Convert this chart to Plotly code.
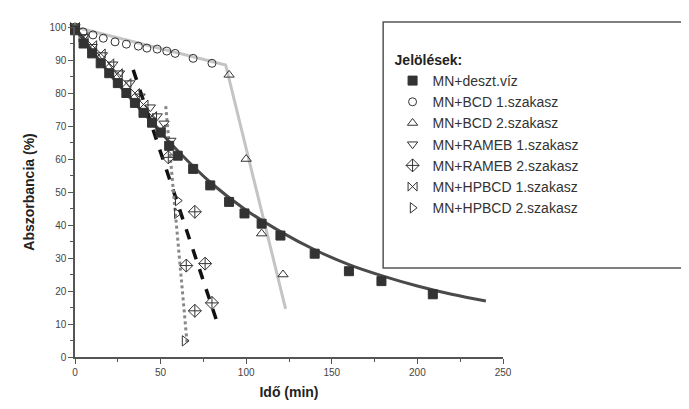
import plotly.graph_objects as go

# MN + deszt. víz (filled squares)
viz_t = [0, 5, 10, 15, 20, 25, 30, 35, 40, 45, 50, 55, 60, 69, 79, 90, 99, 109, 120, 140, 160, 179, 209]
viz_a = [99, 95, 92, 89, 86, 83, 80, 77, 74, 71, 68, 64, 61, 57, 52, 47, 43.5, 40.4, 36.8, 31.3, 26, 23, 19]
# fitted curve
fit_t = [0, 20, 40, 60, 80, 100, 120, 140, 160, 180, 200, 220, 240]
fit_a = [100, 86, 74, 62.5, 52.5, 44.5, 38, 32.5, 28, 24.5, 21.5, 19, 17]

# MN + BCD 1. szakasz (circles)
bcd1_t = [0, 4.7, 10.5, 16.5, 23.4, 30, 37, 42, 48, 53.6, 58.5, 69, 80]
bcd1_a = [100, 98.5, 97.6, 96.6, 95.5, 94.8, 94.2, 93.6, 93.3, 92.7, 92, 90.5, 89]
# MN + BCD 2. szakasz (triangles up)
bcd2_t = [90, 100, 109, 121.5]
bcd2_a = [85.5, 60, 37.4, 25]
bcd_line_t = [0, 88, 123]
bcd_line_a = [100, 88.5, 14.6]

# MN + RAMEB 1. szakasz (triangles down)
rameb1_t = [0, 5, 10, 16, 22, 26, 32, 38, 44, 48, 52, 56]
rameb1_a = [100, 97, 94, 91.5, 88.7, 86, 83, 79, 75.7, 73, 70.8, 65.6]
# MN + RAMEB 2. szakasz (diamonds)
rameb2_t = [54.5, 65, 70, 70, 76, 80]
rameb2_a = [60.5, 27.7, 44, 14, 28.3, 16.4]
rameb_line_t = [34, 84]
rameb_line_a = [87, 9]

# MN + HPBCD 1. szakasz
hp1_t = [0, 5, 10, 15, 20, 25, 30, 35, 40, 45, 50]
hp1_a = [100, 97, 94.5, 92, 89, 86, 83, 80, 76.5, 73, 69]
# MN + HPBCD 2. szakasz (triangles right)
hp2_t = [60, 59.5, 64]
hp2_a = [47.4, 43.5, 4.9]
hp_line_t = [53, 65.5]
hp_line_a = [76, 4]

mc = "#333333"
fig = go.Figure()

# lines first
fig.add_trace(go.Scatter(x=bcd_line_t, y=bcd_line_a, mode="lines", showlegend=False,
                         line=dict(color="#c4c4c4", width=3)))
fig.add_trace(go.Scatter(x=fit_t, y=fit_a, mode="lines", line_shape="spline", showlegend=False,
                         line=dict(color="#4a4a4a", width=3)))
fig.add_trace(go.Scatter(x=rameb_line_t, y=rameb_line_a, mode="lines", showlegend=False,
                         line=dict(color="#111111", width=3.5, dash="dash")))
fig.add_trace(go.Scatter(x=hp_line_t, y=hp_line_a, mode="lines", showlegend=False,
                         line=dict(color="#888888", width=3, dash="dot")))

series = [
    ("MN+deszt.víz", viz_t, viz_a, "square", 9),
    ("MN+BCD 1.szakasz", bcd1_t, bcd1_a, "circle-open", 8),
    ("MN+BCD 2.szakasz", bcd2_t, bcd2_a, "triangle-up-open", 9),
    ("MN+RAMEB 1.szakasz", rameb1_t, rameb1_a, "triangle-down-open", 9),
    ("MN+RAMEB 2.szakasz", rameb2_t, rameb2_a, "diamond-cross-open", 10),
    ("MN+HPBCD 1.szakasz", hp1_t, hp1_a, "bowtie-open", 9),
    ("MN+HPBCD 2.szakasz", hp2_t, hp2_a, "triangle-right-open", 9),
]
for name, t, a, sym, sz in series:
    fig.add_trace(go.Scatter(x=t, y=a, mode="markers", name=name, cliponaxis=False,
                             marker=dict(symbol=sym, size=sz, color=mc,
                                         line=dict(color=mc, width=1))))

axis_common = dict(showline=True, linecolor="#555555", linewidth=1.5, ticks="outside",
                   tickcolor="#555555", ticklen=5, showgrid=False, zeroline=False,
                   automargin=False,
                   tickfont=dict(family="Liberation Sans", size=10, color="#444444"),
                   minor=dict(ticks="outside", ticklen=3, tickcolor="#555555"))

# the page adds an 8px body margin, so margins are reduced by 8
fig.update_layout(
    width=689, height=409,
    margin=dict(l=67, r=194, t=19, b=60),
    plot_bgcolor="white", paper_bgcolor="white",
    font=dict(family="Liberation Sans", color="#222222"),
    xaxis=dict(range=[0, 250], dtick=50, minor_dtick=25,
               title=dict(text="<b>Idő (min)</b>", font=dict(size=14), standoff=10),
               **axis_common),
    yaxis=dict(range=[0, 100], dtick=10, minor_dtick=5,
               title=dict(text="<b>Abszorbancia (%)</b>", font=dict(size=14), standoff=12),
               **axis_common),
    legend=dict(x=0.742, y=0.94, xanchor="left", yanchor="top",
                bgcolor="rgba(0,0,0,0)", borderwidth=0,
                font=dict(size=14, color="#333333"),
                title=dict(text="<b>Jelölések:</b>", font=dict(size=14, color="#222222")),
                tracegroupgap=0),
    shapes=[dict(type="rect", xref="paper", yref="paper", x0=0.72, x1=1.42, y0=0.27, y1=1.015,
                 line=dict(color="#555555", width=1.5))],
)

fig.write_html("out.html")
